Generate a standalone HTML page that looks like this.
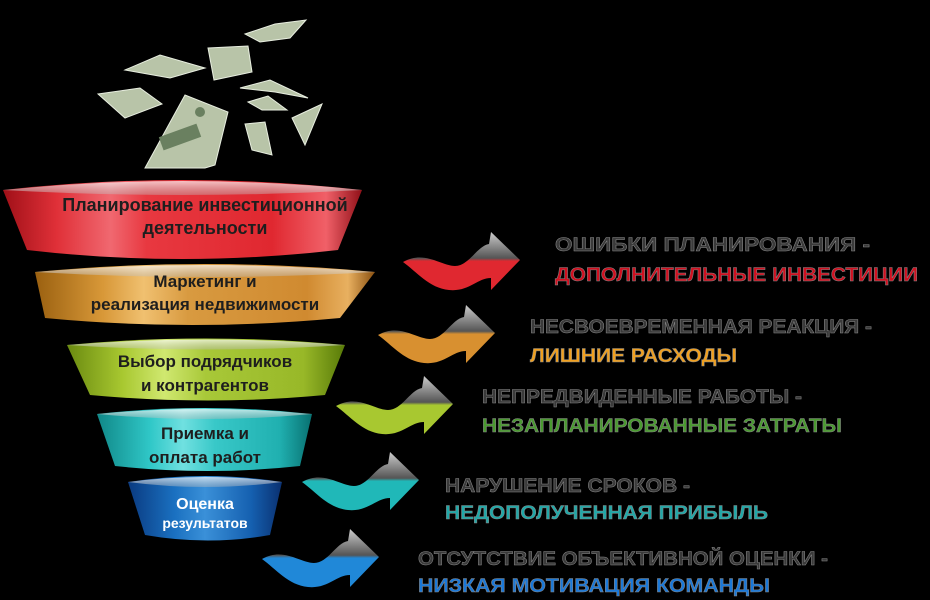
<!DOCTYPE html>
<html><head><meta charset="utf-8"><style>
html,body{margin:0;padding:0;background:#000;}
svg{display:block}
.t{font-family:"Liberation Sans",sans-serif;font-weight:bold;}
</style></head><body>
<svg width="930" height="600" viewBox="0 0 930 600" xmlns="http://www.w3.org/2000/svg">
<defs>
<linearGradient id="gr" x1="0" x2="1" y1="0" y2="0">
<stop offset="0" stop-color="#a01018"/><stop offset="0.15" stop-color="#e03038"/><stop offset="0.3" stop-color="#f06870"/><stop offset="0.4" stop-color="#e83840"/><stop offset="0.75" stop-color="#e02830"/><stop offset="0.9" stop-color="#f06068"/><stop offset="1" stop-color="#901018"/></linearGradient>
<linearGradient id="go" x1="0" x2="1" y1="0" y2="0">
<stop offset="0" stop-color="#9a6010"/><stop offset="0.2" stop-color="#d89838"/><stop offset="0.32" stop-color="#f0c070"/><stop offset="0.45" stop-color="#d89a40"/><stop offset="0.8" stop-color="#d08a30"/><stop offset="0.92" stop-color="#e8b060"/><stop offset="1" stop-color="#8a5010"/></linearGradient>
<linearGradient id="gg" x1="0" x2="1" y1="0" y2="0">
<stop offset="0" stop-color="#6a8a10"/><stop offset="0.2" stop-color="#a8c830"/><stop offset="0.35" stop-color="#d0e870"/><stop offset="0.5" stop-color="#a8c838"/><stop offset="0.85" stop-color="#98b828"/><stop offset="1" stop-color="#587a08"/></linearGradient>
<linearGradient id="gt" x1="0" x2="1" y1="0" y2="0">
<stop offset="0" stop-color="#108888"/><stop offset="0.25" stop-color="#30c8c8"/><stop offset="0.4" stop-color="#70e0e0"/><stop offset="0.55" stop-color="#38c8c8"/><stop offset="0.85" stop-color="#20b0b0"/><stop offset="1" stop-color="#087070"/></linearGradient>
<linearGradient id="gb" x1="0" x2="1" y1="0" y2="0">
<stop offset="0" stop-color="#0a3a80"/><stop offset="0.3" stop-color="#1a70c0"/><stop offset="0.5" stop-color="#3a90d8"/><stop offset="0.8" stop-color="#1560b0"/><stop offset="1" stop-color="#0a3070"/></linearGradient>
<linearGradient id="rim" x1="0" x2="0" y1="0" y2="1"><stop offset="0" stop-color="#fff" stop-opacity="0.7"/><stop offset="1" stop-color="#bbb" stop-opacity="0.4"/></linearGradient>
<linearGradient id="a1" x1="0" x2="0" y1="0" y2="1"><stop offset="0" stop-color="#ccc"/><stop offset="0.45" stop-color="#555"/><stop offset="0.5" stop-color="#e02830"/><stop offset="1" stop-color="#e02830"/></linearGradient>
<linearGradient id="a2" x1="0" x2="0" y1="0" y2="1"><stop offset="0" stop-color="#ccc"/><stop offset="0.45" stop-color="#555"/><stop offset="0.5" stop-color="#d89030"/><stop offset="1" stop-color="#d89030"/></linearGradient>
<linearGradient id="a3" x1="0" x2="0" y1="0" y2="1"><stop offset="0" stop-color="#ccc"/><stop offset="0.45" stop-color="#555"/><stop offset="0.5" stop-color="#a8c830"/><stop offset="1" stop-color="#a8c830"/></linearGradient>
<linearGradient id="a4" x1="0" x2="0" y1="0" y2="1"><stop offset="0" stop-color="#ccc"/><stop offset="0.45" stop-color="#555"/><stop offset="0.5" stop-color="#20b8b8"/><stop offset="1" stop-color="#20b8b8"/></linearGradient>
<linearGradient id="a5" x1="0" x2="0" y1="0" y2="1"><stop offset="0" stop-color="#ccc"/><stop offset="0.45" stop-color="#555"/><stop offset="0.5" stop-color="#2088d8"/><stop offset="1" stop-color="#2088d8"/></linearGradient>
<path id="arr" d="M0,30 C22,18 38,34 52,34 C66,34 74,14 86,12 L88,0 L117,28 L88,58 L88,46 C74,46 66,60 46,58 C26,56 14,40 0,30 Z"/>
</defs>

<!-- money -->
<g fill="#b8c4a8" stroke="#e8eee0" stroke-width="1">
<polygon points="125,70 160,55 205,68 170,78"/>
<polygon points="208,48 248,46 252,72 214,80"/>
<polygon points="245,34 275,24 306,20 290,38 260,42"/>
<polygon points="98,94 140,88 162,104 125,118"/>
<polygon points="145,168 185,95 228,112 215,165 205,168"/>
<polygon points="240,88 270,80 308,98 275,92"/>
<polygon points="248,102 268,96 287,110 262,110"/>
<polygon points="292,118 322,104 305,145"/>
<polygon points="245,124 265,122 272,155 252,150"/>
</g>
<g fill="#6a8060"><rect x="160" y="130" width="40" height="14" transform="rotate(-20 180 137)"/><circle cx="200" cy="112" r="5"/></g>

<!-- funnel layers -->
<path d="M3,190 Q182,170 362,190 L338,250 Q182,268 27,250 Z" fill="url(#gr)"/>
<path d="M3,190 Q182,172 362,190 Q182,200 3,190 Z" fill="url(#rim)"/>
<path d="M35,272 Q205,256 375,272 L340,318 Q192,332 45,318 Z" fill="url(#go)"/>
<path d="M35,272 Q205,258 375,272 Q205,282 35,272 Z" fill="url(#rim)"/>
<path d="M67,345 Q206,332 345,345 L325,395 Q208,406 90,395 Z" fill="url(#gg)"/>
<path d="M67,345 Q206,334 345,345 Q206,354 67,345 Z" fill="url(#rim)"/>
<path d="M97,414 Q205,402 312,414 L300,466 Q208,476 115,466 Z" fill="url(#gt)"/>
<path d="M97,414 Q205,404 312,414 Q205,424 97,414 Z" fill="url(#rim)"/>
<path d="M128,482 Q205,470 282,482 L270,535 Q208,546 145,535 Z" fill="url(#gb)"/>
<path d="M128,482 Q205,472 282,482 Q205,492 128,482 Z" fill="url(#rim)"/>

<g class="t" fill="#1e1e1e" text-anchor="middle" font-size="17">
<text x="205" y="211" font-size="18">Планирование инвестиционной</text>
<text x="205" y="234" font-size="18">деятельности</text>
<text x="205" y="287">Маркетинг и</text>
<text x="205" y="310">реализация недвижимости</text>
<text x="205" y="367">Выбор подрядчиков</text>
<text x="205" y="391">и контрагентов</text>
<text x="205" y="439">Приемка и</text>
<text x="205" y="463">оплата работ</text>
<text x="205" y="509" fill="#fff" font-size="16">Оценка</text>
<text x="205" y="528" fill="#fff" font-size="14">результатов</text>
</g>

<!-- arrows -->
<use href="#arr" x="403" y="232" fill="url(#a1)"/>
<use href="#arr" x="378" y="305" fill="url(#a2)"/>
<use href="#arr" x="336" y="376" fill="url(#a3)"/>
<use href="#arr" x="302" y="452" fill="url(#a4)"/>
<use href="#arr" x="262" y="529" fill="url(#a5)"/>

<g class="t" font-size="19" stroke="#888" stroke-width="0.5">
<text x="555" y="251" fill="#3a3a3a" textLength="315" lengthAdjust="spacingAndGlyphs">ОШИБКИ  ПЛАНИРОВАНИЯ -</text>
<text x="555" y="281" fill="#d01020" textLength="363" lengthAdjust="spacingAndGlyphs">ДОПОЛНИТЕЛЬНЫЕ  ИНВЕСТИЦИИ</text>
<text x="530" y="333" fill="#3a3a3a" textLength="342" lengthAdjust="spacingAndGlyphs">НЕСВОЕВРЕМЕННАЯ  РЕАКЦИЯ -</text>
<text x="530" y="362" fill="#f0a020" textLength="207" lengthAdjust="spacingAndGlyphs">ЛИШНИЕ  РАСХОДЫ</text>
<text x="482" y="403" fill="#3a3a3a" textLength="320" lengthAdjust="spacingAndGlyphs">НЕПРЕДВИДЕННЫЕ  РАБОТЫ -</text>
<text x="482" y="432" fill="#4a9a30" textLength="360" lengthAdjust="spacingAndGlyphs">НЕЗАПЛАНИРОВАННЫЕ  ЗАТРАТЫ</text>
<text x="445" y="492" fill="#3a3a3a" textLength="245" lengthAdjust="spacingAndGlyphs">НАРУШЕНИЕ  СРОКОВ -</text>
<text x="445" y="519" fill="#20a8a8" textLength="323" lengthAdjust="spacingAndGlyphs">НЕДОПОЛУЧЕННАЯ  ПРИБЫЛЬ</text>
<text x="418" y="565" fill="#3a3a3a" textLength="410" lengthAdjust="spacingAndGlyphs">ОТСУТСТВИЕ  ОБЪЕКТИВНОЙ  ОЦЕНКИ -</text>
<text x="418" y="592" fill="#1a78d8" textLength="352" lengthAdjust="spacingAndGlyphs">НИЗКАЯ  МОТИВАЦИЯ  КОМАНДЫ</text>
</g>
</svg>
</body></html>
